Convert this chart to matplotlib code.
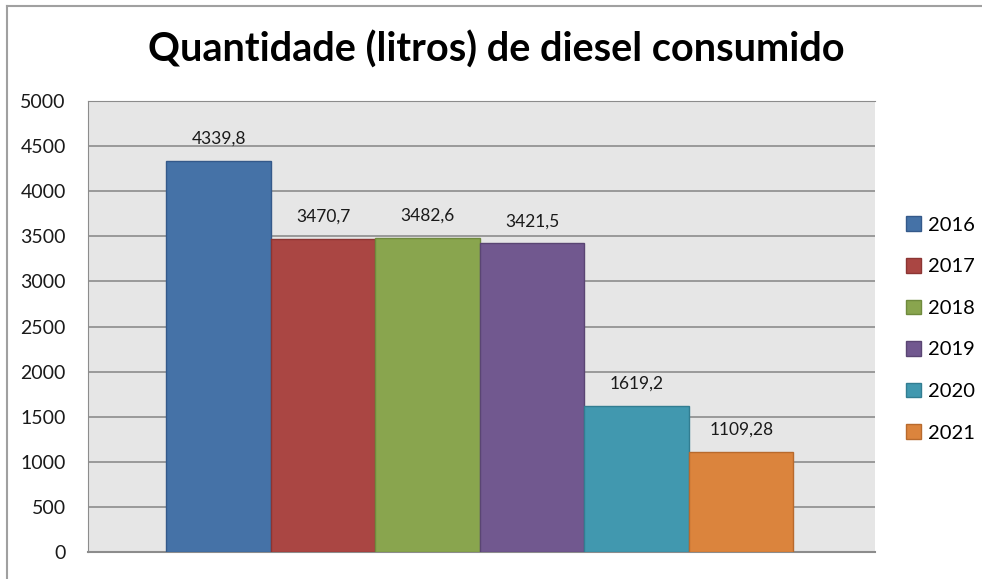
import matplotlib.pyplot as plt
from matplotlib.patches import Patch

years = ['2016', '2017', '2018', '2019', '2020', '2021']
litros = [4339.8, 3470.7, 3482.6, 3421.5, 1619.2, 1109.28]
rotulos = ['4339,8', '3470,7', '3482,6', '3421,5', '1619,2', '1109,28']
cores = ['#4572a7', '#aa4643', '#89a54e', '#71588f', '#4198af', '#db843d']
bordas = ['#34598a', '#8c3533', '#6f8a3d', '#5a4573', '#327d91', '#b86a2d']

plt.rcParams['font.family'] = ['Lato', 'DejaVu Sans']

fig = plt.figure(figsize=(9.82, 5.79), dpi=100)
ax = fig.add_axes([88/982, 1-552/579, (875-88)/982, (552-101)/579])
ax.set_facecolor('#e6e6e6')

x = list(range(len(years)))
bars = ax.bar(x, litros, width=1.0, color=cores, edgecolor=bordas, linewidth=1, zorder=3)
for xi, v, t in zip(x, litros, rotulos):
    ax.annotate(t, (xi, v), xytext=(0, 10), textcoords='offset points',
                ha='center', va='bottom', fontsize=12.5, color='#1a1a1a')

ax.set_xlim(-1.25, 6.28)
ax.set_ylim(0, 5000)
ax.set_yticks(range(0, 5001, 500))
ax.yaxis.grid(True, color='#8c8c8c', linewidth=1.2, zorder=1)
ax.set_xticks([])
ax.tick_params(axis='y', length=0, pad=16, labelsize=14, labelcolor='#1a1a1a')
ax.spines['right'].set_visible(False)
ax.spines['left'].set_color('#8c8c8c')
ax.spines['top'].set_color('#8c8c8c')
ax.spines['bottom'].set_color('#8c8c8c')
ax.spines['bottom'].set_linewidth(1.5)

handles = [Patch(facecolor=c, edgecolor=b, label=y) for c, b, y in zip(cores, bordas, years)]
fig.legend(handles=handles, loc='center left', bbox_to_anchor=(892/982, 1-329/579),
           frameon=False, fontsize=14.5, handlelength=0.75, handleheight=0.75,
           handletextpad=0.35, labelspacing=1.2, borderpad=0.2)

fig.text(496/982, 1-50/579, 'Quantidade (litros) de diesel consumido',
         ha='center', va='center', fontsize=28.5, fontweight='bold', color='black')

# moldura do grafico
fig.add_artist(plt.Line2D([7/982, 7/982], [0, 1-6/579], color='#a0a0a0', lw=1.5))
fig.add_artist(plt.Line2D([7/982, 1.0], [1-6/579, 1-6/579], color='#a0a0a0', lw=1.5))

fig.savefig('out.png', dpi=100)
